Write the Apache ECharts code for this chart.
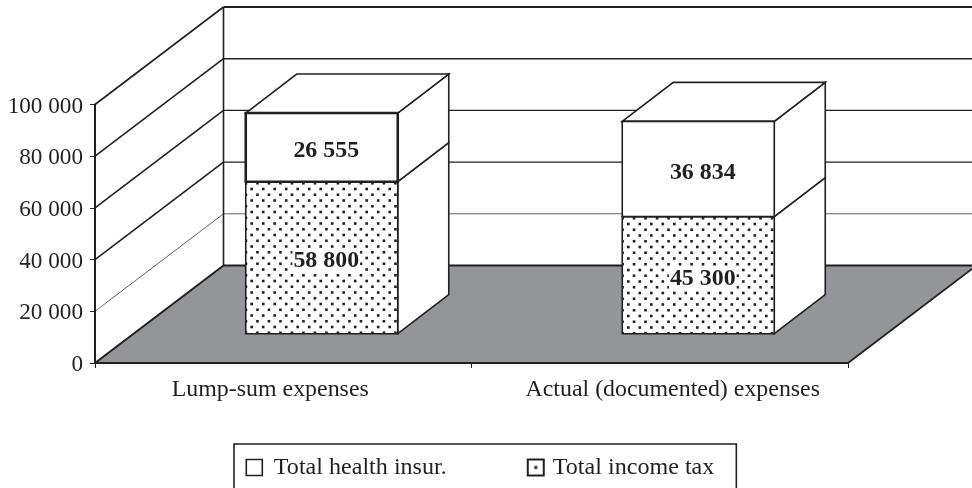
<!DOCTYPE html>
<html><head><meta charset="utf-8">
<style>html,body{margin:0;padding:0;background:#fff}#c{width:972px;height:488px}</style>
<script src="https://cdn.jsdelivr.net/npm/echarts@6/dist/echarts.min.js"></script>
</head><body><div id="c"></div>
<script>
const categories = ['Lump-sum expenses', 'Actual (documented) expenses'];
const healthInsurance = [26555, 36834];
const incomeTax = [58800, 45300];
const yTicks = [0, 20000, 40000, 60000, 80000, 100000];

const INK = '#231f20', FLOOR = '#939598', FONT = '"Liberation Serif"';
const fmt = v => String(v).replace(/\B(?=(\d{3})+$)/g, ' ');

function dotPattern(ox, oy) {
  const cv = document.createElement('canvas');
  cv.width = 23; cv.height = 23;
  const g = cv.getContext('2d');
  g.fillStyle = '#fff'; g.fillRect(0, 0, 23, 23);
  g.fillStyle = INK;
  for (let r = -1; r < 5; r++) for (let c = -1; c < 3; c++) {
    g.fillRect(ox + c * 11.5 + (r % 2 ? 5.75 : 0) - 1.3, oy + r * 5.75 - 1.3, 2.6, 2.6);
  }
  return { image: cv, repeat: 'repeat' };
}
const barDots = [dotPattern(10.2, 5), dotPattern(7.3, 5.5)];

function legendDot() {
  const cv = document.createElement('canvas');
  cv.width = 16; cv.height = 16;
  const g = cv.getContext('2d');
  g.fillStyle = '#fff'; g.fillRect(0, 0, 16, 16);
  g.fillStyle = INK; g.fillRect(6.5, 6.5, 3, 3);
  return { image: cv, repeat: 'repeat' };
}
const legendPattern = legendDot();

const WALL = { dx: 128.5, dy: -97.5 };
const BAR = { dx: 51, dy: -39, lift: 29.3, shift: 38.5, width: 152 };

function renderWalls(params, api) {
  const cs = params.coordSys;
  const v = api.value(0);
  const y = api.coord([0, v])[1];
  const left = cs.x, right = cs.x + cs.width, W = api.getWidth();
  const thin = v === yTicks[1];
  const line = (x1, y1, x2, y2, lw) => ({ type: 'line', shape: { x1, y1, x2, y2 },
    style: { stroke: INK, lineWidth: lw, fill: null } });
  const kids = [];
  if (params.dataIndex === 0) {
    const by = cs.y + cs.height + WALL.dy, bx = left + WALL.dx;
    const rx = W, ry = cs.y + cs.height + WALL.dy * (W - right) / WALL.dx;
    kids.push({ type: 'polygon', shape: { points: [[left, cs.y + cs.height], [right, cs.y + cs.height], [rx, ry], [rx, by], [bx, by]] },
      style: { fill: FLOOR, stroke: null } });
    kids.push(line(right, cs.y + cs.height, rx, ry, 1.8));
    kids.push(line(bx, cs.y + WALL.dy, bx, by, 1.6));
    kids.push(line(left, cs.y + cs.height, bx, by, 2));
    kids.push(line(bx, by, W, by, 1.8));
  } else {
    const lw = thin ? 0.7 : (v === yTicks[5] ? 2 : 1.4);
    kids.push(line(left, y, left + WALL.dx, y + WALL.dy, thin ? 0.7 : 1.6));
    kids.push(line(left + WALL.dx, y + WALL.dy, W, y + WALL.dy, lw));
  }
  return { type: 'group', children: kids };
}

function box(params, api, isTop) {
  const i = params.dataIndex;
  const base = api.value(1), val = api.value(2);
  const cx = api.coord([i, 0])[0] + BAR.shift;
  const x0 = cx - BAR.width / 2, x1 = cx + BAR.width / 2;
  const yb = api.coord([i, base])[1] - BAR.lift;
  const yt = api.coord([i, base + val])[1] - BAR.lift;
  const heavy = isTop && i === 0;
  const lw = heavy ? 2.6 : 1.6;
  const st = f => ({ fill: f, stroke: INK, lineWidth: lw, lineJoin: 'miter' });
  const kids = [
    { type: 'polygon', shape: { points: [[x1, yb], [x1 + BAR.dx, yb + BAR.dy], [x1 + BAR.dx, yt + BAR.dy], [x1, yt]] },
      style: { fill: '#fff', stroke: INK, lineWidth: 1.6 } },
  ];
  if (isTop) kids.push({ type: 'polygon', shape: { points: [[x0, yt], [x0 + BAR.dx, yt + BAR.dy], [x1 + BAR.dx, yt + BAR.dy], [x1, yt]] },
    style: { fill: '#fff', stroke: INK, lineWidth: 1.6 } });
  kids.push({ type: 'rect', shape: { x: x0, y: yt, width: BAR.width, height: yb - yt }, style: st(isTop ? '#fff' : barDots[i]) });
  kids.push({ type: 'text', x: cx + 4.5, y: (yt + yb) / 2 + 3.5, style: {
    text: fmt(val), fill: INK, font: 'bold 23.9px ' + FONT, align: 'center', verticalAlign: 'middle',
    backgroundColor: isTop ? null : '#fff', padding: isTop ? 0 : [0, 1, 0, 1]
  } });
  return { type: 'group', children: kids };
}

const chart = echarts.init(document.getElementById('c'), null, { renderer: 'canvas' });
chart.setOption({
  animation: false,
  backgroundColor: '#fff',
  grid: { left: 95, right: 124, top: 104.5, bottom: 125, containLabel: false },
  legend: {
    left: 234, top: 444, orient: 'horizontal',
    data: [
      { name: 'Total health insur.', itemStyle: { color: '#fff', borderColor: INK, borderWidth: 1.6 },
        textStyle: { padding: [0, 0, 0, 6.5] } },
      { name: 'Total income tax', itemStyle: { color: legendPattern, borderColor: INK, borderWidth: 2 },
        textStyle: { padding: [0, 0, 0, 4] } }
    ],
    icon: 'rect', itemWidth: 16, itemHeight: 16, itemGap: 80,
    borderColor: INK, borderWidth: 1.6, borderRadius: 0,
    padding: [11.5, 22, 15, 11.5],
    textStyle: { color: INK, fontFamily: FONT, fontSize: 24.1 }, selectedMode: false
  },
  xAxis: {
    type: 'category', data: categories, z: 5,
    boundaryGap: true,
    axisLine: { lineStyle: { color: INK, width: 1.8 } },
    axisTick: { show: true, alignWithLabel: false, length: 5, lineStyle: { color: INK, width: 1 } },
    axisLabel: { margin: 15, interval: 0, color: INK, fontFamily: FONT, fontSize: 23.9,
      formatter: (v, i) => (i === 0 ? '{a|' : '{b|') + v + '}',
      rich: { a: { padding: [0, 26, 0, 0], color: INK, fontFamily: FONT, fontSize: 23.9 },
              b: { padding: [0, 0, 0, 26], color: INK, fontFamily: FONT, fontSize: 23.9 } } }
  },
  yAxis: {
    type: 'value', min: 0, max: yTicks[yTicks.length - 1], interval: yTicks[1], z: 5,
    splitLine: { show: false },
    axisLine: { show: true, lineStyle: { color: INK, width: 2 } },
    axisTick: { show: true, length: 5, lineStyle: { color: INK, width: 1 } },
    axisLabel: { margin: 12, color: INK, fontFamily: FONT, fontSize: 23.2, formatter: v => '{t|' + fmt(v) + '}',
      rich: { t: { padding: [4, 0, 0, 0], color: INK, fontFamily: FONT, fontSize: 23.2 } } }
  },
  series: [
    { type: 'custom', name: 'walls', z: 1, silent: true, renderItem: renderWalls,
      encode: { y: 0 }, data: yTicks.map(v => [v]) },
    { type: 'custom', name: 'Total income tax', z: 2, itemStyle: { color: barDots[0] },
      renderItem: (p, a) => box(p, a, false), encode: { x: 0, y: 2 },
      data: categories.map((c, i) => [i, 0, incomeTax[i]]) },
    { type: 'custom', name: 'Total health insur.', z: 2, itemStyle: { color: '#fff' },
      renderItem: (p, a) => box(p, a, true), encode: { x: 0, y: 2 },
      data: categories.map((c, i) => [i, incomeTax[i], healthInsurance[i]]) }
  ]
});
</script></body></html>
